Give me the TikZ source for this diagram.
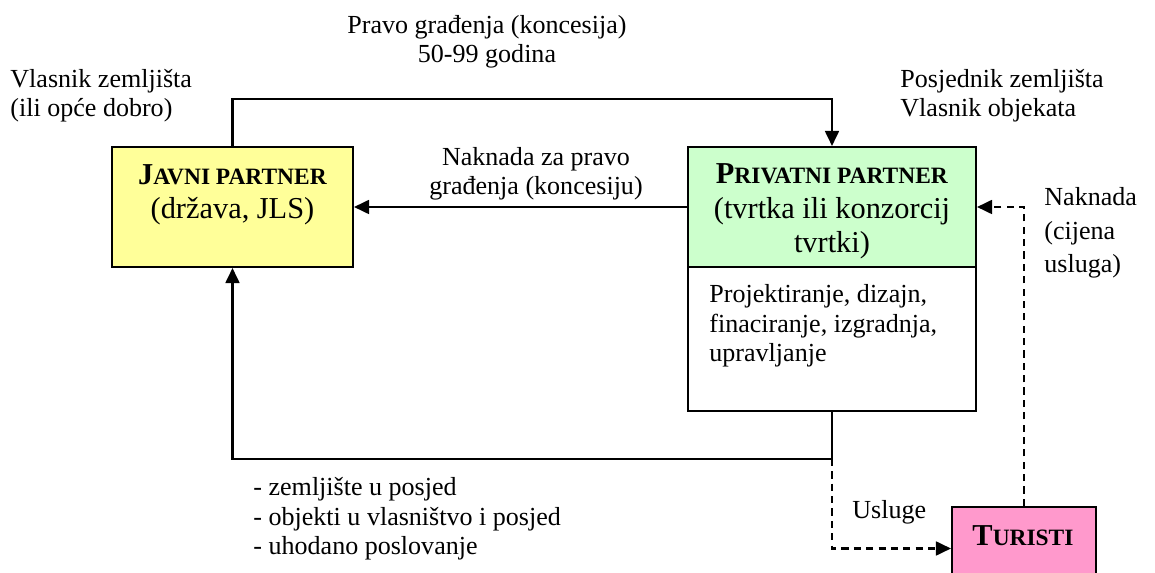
\documentclass[tikz,border=0pt]{standalone}
\usepackage{fontspec}
\setmainfont{LiberationSerif}[Extension=.ttf,UprightFont=*-Regular,BoldFont=*-Bold,ItalicFont=*-Italic,BoldItalicFont=*-BoldItalic]
\usetikzlibrary{arrows.meta,fit}
\definecolor{jyellow}{HTML}{FFFF99}
\definecolor{pgreen}{HTML}{CCFFCC}
\definecolor{tpink}{HTML}{FF99CC}
\newcommand\bsc[2]{\textbf{#1{\fontsize{10.8}{12}\selectfont #2}}}
\begin{document}
\begin{tikzpicture}[x=0.4608pt,y=-0.4608pt,
  lw/.style={line width=0.95pt},
  boxst/.style={draw,lw,inner sep=0pt},
  conn/.style={lw,-{Triangle[length=6.9pt,width=6.4pt]}},
  dconn/.style={conn,dash pattern=on 3.3pt off 2.4pt},
  txt/.style={inner sep=0pt,font=\rmfamily\fontsize{12}{13.8}\selectfont},
  btxt/.style={inner sep=0pt,font=\rmfamily\fontsize{14}{16}\selectfont,align=center}]
\clip (0,0) rectangle (1155,573);
% boxes
\node[boxst,fill=jyellow,fit={(112,147)(353,267)}] (javni) {};
\node[boxst,fill=pgreen,fit={(688,147)(976,267)}] (privG) {};
\node[boxst,fill=white,fit={(688,267)(976,411)}] (privW) {};
\node[boxst,fill=tpink,fit={(952,507)(1096,590)}] (turisti) {};
% box texts
\node[btxt,anchor=base] (javniT) at (232.5,219) {\bsc{J}{AVNI PARTNER}\\(država, JLS)};
\node[btxt,anchor=base] (privT) at (832,253) {\bsc{P}{RIVATNI PARTNER}\\(tvrtka ili konzorcij\\tvrtki)};
\node[txt,align=left,anchor=base west] (privI) at (709,362) {Projektiranje, dizajn,\\finaciranje, izgradnja,\\upravljanje};
\node[btxt,anchor=base] (turT) at (1023,546) {\bsc{T}{URISTI}};
% labels
\node[txt,align=center,anchor=base] (title) at (487,63) {Pravo građenja (koncesija)\\50-99 godina};
\node[txt,align=left,anchor=base west] (vlas) at (10,117) {Vlasnik zemljišta\\(ili opće dobro)};
\node[txt,align=left,anchor=base west] (posj) at (900,117) {Posjednik zemljišta\\Vlasnik objekata};
\node[txt,align=center,anchor=base] (nakn) at (536,195) {Naknada za pravo\\građenja (koncesiju)};
\node[txt,align=left,anchor=base west,font=\rmfamily\fontsize{12}{15.5}\selectfont] (cij) at (1044,273) {Naknada\\(cijena\\usluga)};
\node[txt,anchor=base west] (usl) at (852,519) {Usluge};
\node[txt,align=left,anchor=base west] (list) at (253,555) {- zemljište u posjed\\- objekti u vlasništvo i posjed\\- uhodano poslovanje};
% connectors
\coordinate (tl) at (232.5,99);
\coordinate (br) at (832,459);
\draw[conn] (javni.north) -- (tl) -| (privG.north);
\draw[conn] (privG.west) -- (javni.east);
\draw[conn] (privW.south) -- (br) -| (javni.south);
\draw[dconn] (br) |- (turisti.west);
\draw[dconn] (turisti.north) |- (privG.east);
\end{tikzpicture}
\end{document}
